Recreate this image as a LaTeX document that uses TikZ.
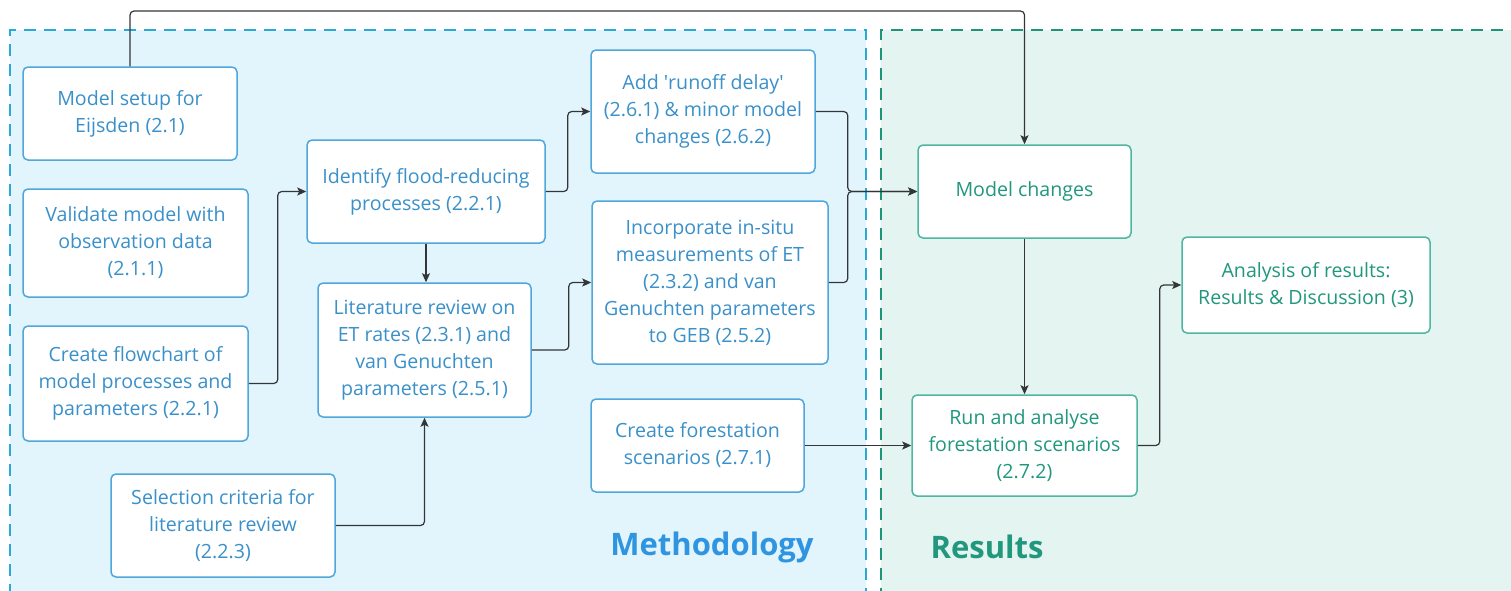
\documentclass[tikz,border=0pt]{standalone}
\usepackage{fontspec}
\setmainfont{Open Sans}
\usepackage{xcolor}
\usepackage{tikz}
\usetikzlibrary{arrows.meta,positioning,calc}

\definecolor{methfill}{HTML}{E2F4FC}
\definecolor{methline}{HTML}{2AA9D9}
\definecolor{methtext}{HTML}{3A90C9}
\definecolor{methbox}{HTML}{50A7DB}
\definecolor{methlabel}{HTML}{2F95E0}
\definecolor{resfill}{HTML}{E3F4F1}
\definecolor{resline}{HTML}{1E9478}
\definecolor{restext}{HTML}{21977E}
\definecolor{resbox}{HTML}{4FB6A2}
\definecolor{connline}{HTML}{333638}

\begin{document}
\begin{tikzpicture}[x=1pt,y=-1pt,
    methstep/.style={draw=methbox, fill=white, line width=1.5pt, rounded corners=5pt,
        text=methtext, align=center, font=\fontsize{19.6}{27}\selectfont, inner sep=0pt},
    resstep/.style={draw=resbox, fill=white, line width=1.5pt, rounded corners=5pt,
        text=restext, align=center, font=\fontsize{19.6}{27}\selectfont, inner sep=0pt},
    conn/.style={draw=connline, line width=1.2pt, rounded corners=4pt,
        -{Stealth[length=9pt,width=8pt,inset=2pt]}},
    region/.style={line width=2pt, dash pattern=on 12pt off 8pt}]
\useasboundingbox (0,0) rectangle (1511,590);

% the two regions
\fill[methfill] (10,30) rectangle (866,600);
\draw[region, methline] (866,600) -- (866,30) -- (10,30) -- (10,600);
\fill[resfill] (881,30) rectangle (1520,600);
\draw[region, resline] (881,600) -- (881,30) -- (1520,30);

\node[font=\fontsize{31}{36}\selectfont\bfseries, text=methlabel] (methlbl) at (712,547) {Methodology};
\node[font=\fontsize{31}{36}\selectfont\bfseries, text=restext] (reslbl) at (987,547) {Results};

% methodology steps
\node[methstep, minimum width=214pt, minimum height=93pt] (setup) at (130,113.5) {Model setup for\\Eijsden (2.1)};
\node[methstep, minimum width=225pt, minimum height=108pt] (validate) at (135.5,243) {Validate model with\\observation data\\(2.1.1)};
\node[methstep, minimum width=225pt, minimum height=115pt] (flowchart) at (135.5,383.5) {Create flowchart of\\model processes and\\parameters (2.2.1)};
\node[methstep, minimum width=224pt, minimum height=103pt] (select) at (223,525.5) {Selection criteria for\\literature review\\(2.2.3)};
\node[methstep, minimum width=238pt, minimum height=103pt] (identify) at (426,191.5) {Identify flood-reducing\\processes (2.2.1)};
\node[methstep, minimum width=213pt, minimum height=134pt] (litrev) at (424.5,350) {Literature review on\\ET rates (2.3.1) and\\van Genuchten\\parameters (2.5.1)};
\node[methstep, minimum width=224pt, minimum height=123pt] (runoff) at (703,111.5) {Add \textquotesingle runoff delay\textquotesingle\\(2.6.1) \& minor model\\changes (2.6.2)};
\node[methstep, minimum width=236pt, minimum height=163pt] (insitu) at (710,282.5) {Incorporate in-situ\\measurements of ET\\(2.3.2) and van\\Genuchten parameters\\to GEB (2.5.2)};
\node[methstep, minimum width=213pt, minimum height=93pt] (forest) at (697.5,445.5) {Create forestation\\scenarios (2.7.1)};

% results steps
\node[resstep, minimum width=213pt, minimum height=93pt] (changes) at (1024.5,191.5) {Model changes};
\node[resstep, minimum width=225pt, minimum height=101pt] (runscen) at (1024.5,445.5) {Run and analyse\\forestation scenarios\\(2.7.2)};
\node[resstep, minimum width=248pt, minimum height=96pt] (analysis) at (1306,285) {Analysis of results:\\Results \& Discussion (3)};

% connectors
\coordinate (topline) at (0,11);
\draw[conn] (setup.north) |- (changes.north |- topline) -- (changes.north);
\draw[conn] (flowchart.east) -- ++(29,0) |- (identify.west);
\draw[conn] (identify.south) -- (identify.south |- litrev.north);
\draw[conn] (select.east) -| (litrev.south);
\draw[conn] (identify.east) -- ++(22,0) |- (runoff.west);
\draw[conn] (litrev.east) -- ++(37,0) |- (insitu.west);
\draw[conn] (runoff.east) -- ++(32,0) |- (changes.west);
\draw[conn] (insitu.east) -- ++(19,0) |- (changes.west);
\draw[conn] (forest.east) -- (runscen.west);
\draw[conn] (changes.south) -- (runscen.north);
\draw[conn] (runscen.east) -- ++(22,0) |- (analysis.west);
\end{tikzpicture}
\end{document}
